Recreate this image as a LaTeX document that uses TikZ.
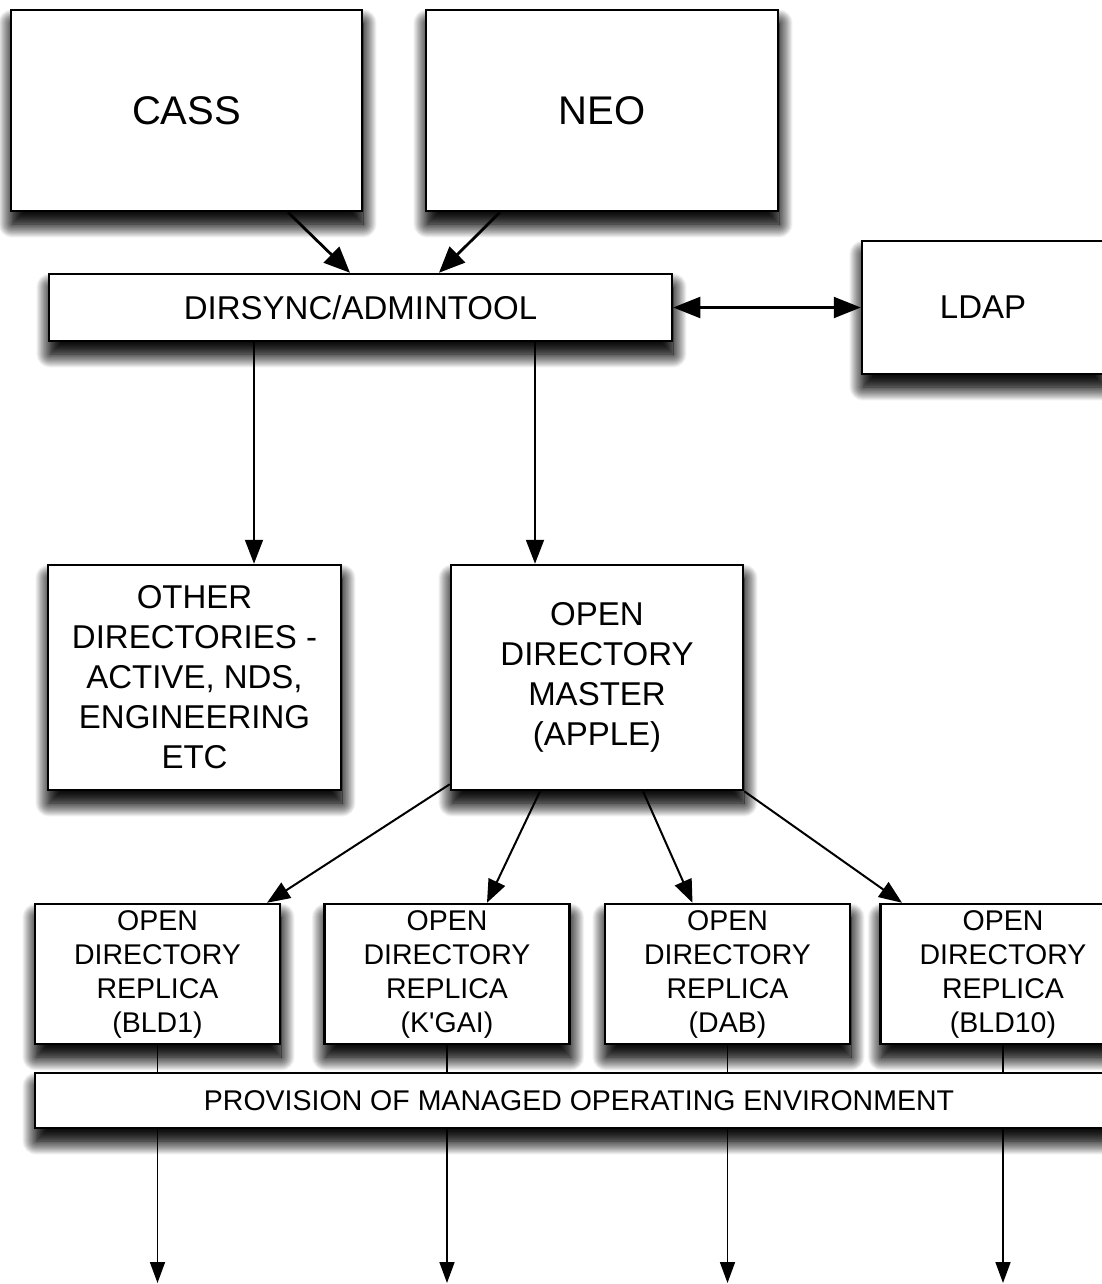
\documentclass[tikz,border=0pt]{standalone}
\usepackage{fontspec}
\setmainfont{Liberation Sans}
\usetikzlibrary{arrows.meta,shadows.blur}

\tikzset{
  softshadow/.style={blur shadow={shadow xshift=1pt, shadow yshift=-13pt,
      shadow blur radius=14pt, shadow blur steps=22, shadow opacity=85}},
  box/.style={draw=black, line width=2.5pt, fill=white, inner sep=2pt,
    align=center, softshadow, softshadow},
  bigtext/.style={font=\fontsize{40}{46}\selectfont},
  midtext/.style={font=\fontsize{33}{40}\selectfont},
  smalltext/.style={font=\fontsize{28.5}{34}\selectfont},
  replica/.style={box, smalltext, minimum width=245, minimum height=140},
  heavy/.style={line width=2.8pt, -{Triangle[length=26pt,width=22pt]}},
  link/.style={line width=2pt, -{Triangle[length=23pt,width=18pt]}},
  feed/.style={line width=1.8pt, -{Triangle[length=24pt,width=18pt]}},
  tap/.style={line width=1.6pt},
  outlet/.style={line width=1.7pt, -{Triangle[length=21pt,width=15pt]}}
}

\begin{document}
\begin{tikzpicture}[x=1pt, y=-1pt]
  \useasboundingbox (0,0) rectangle (1101,1284);

  % sources
  \node[box, bigtext, minimum width=351, minimum height=201] (cass) at (186.5,110.5) {CASS};
  \node[box, bigtext, minimum width=352, minimum height=201] (neo) at (602,110.5) {NEO};

  % synchronisation layer
  \node[box, midtext, minimum width=623, minimum height=67] (dirsync) at (360.5,307.5) {DIRSYNC/ADMINTOOL};
  \node[box, midtext, minimum width=242, minimum height=133] (ldap) at (983,307.5) {LDAP};

  % directories
  \node[box, midtext, minimum width=293, minimum height=225] (other) at (194.5,677.5)
    {OTHER\\DIRECTORIES -\\ACTIVE, NDS,\\ENGINEERING\\ETC};
  \node[box, midtext, minimum width=292, minimum height=225] (master) at (597,677.5)
    {OPEN\\DIRECTORY\\MASTER\\(APPLE)};

  % replicas
  \node[replica] (bld1) at (157.5,974) {OPEN\\DIRECTORY\\REPLICA\\(BLD1)};
  \node[replica] (kgai) at (447,974) {OPEN\\DIRECTORY\\REPLICA\\(K\textquotesingle GAI)};
  \node[replica] (dab) at (727.5,974) {OPEN\\DIRECTORY\\REPLICA\\(DAB)};
  \node[replica] (bld10) at (1003,974) {OPEN\\DIRECTORY\\REPLICA\\(BLD10)};

  % managed environment bar
  \node[box, smalltext, minimum width=1088, minimum height=55] (provision) at (579,1100.5)
    {PROVISION OF MANAGED OPERATING ENVIRONMENT};

  % open outputs at the foot of the page
  \coordinate (out1) at (157.5,1283);
  \coordinate (out2) at (447,1283);
  \coordinate (out3) at (727.5,1283);
  \coordinate (out4) at (1003,1283);

  % connectors
  \draw[heavy] ([xshift=101.5pt]cass.south) -- ([xshift=-10.5pt]dirsync.north);
  \draw[heavy] ([xshift=-102pt]neo.south) -- ([xshift=78.5pt]dirsync.north);

  \draw[line width=2.2pt, {Triangle[length=27pt,width=21pt]}-{Triangle[length=27pt,width=21pt]}]
    (dirsync.east) -- (ldap.west);

  \draw[feed] ([xshift=-106.5pt]dirsync.south) -- ([xshift=-106.5pt]dirsync.south |- other.north);
  \draw[feed] ([xshift=174.5pt]dirsync.south) -- ([xshift=174.5pt]dirsync.south |- master.north);

  \draw[link] ([yshift=7pt]master.south west) -- ([xshift=109.5pt]bld1.north);
  \draw[link] ([xshift=-57pt]master.south) -- ([xshift=40pt]kgai.north);
  \draw[link] ([xshift=46pt]master.south) -- ([xshift=-35pt]dab.north);
  \draw[link] (master.south east) -- ([xshift=-101pt]bld10.north);

  \foreach \r in {bld1,kgai,dab,bld10}
    \draw[tap] (\r.south) -- (\r.south |- provision.north);

  \draw[outlet] (bld1.south |- provision.south) -- (out1);
  \draw[outlet] (kgai.south |- provision.south) -- (out2);
  \draw[outlet] (dab.south |- provision.south) -- (out3);
  \draw[outlet] (bld10.south |- provision.south) -- (out4);
\end{tikzpicture}
\end{document}
